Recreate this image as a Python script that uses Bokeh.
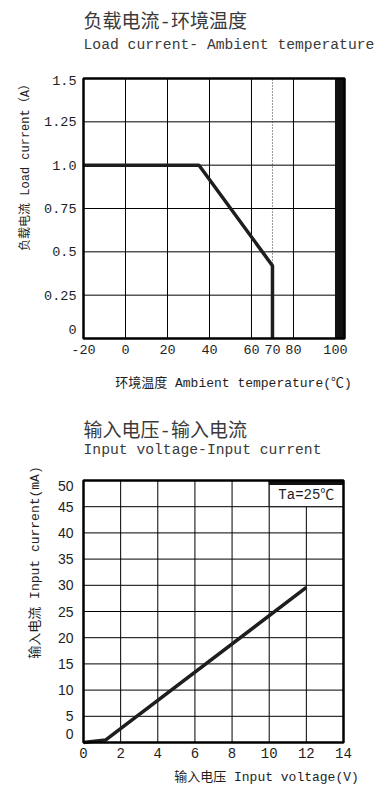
import math
from bokeh.plotting import figure
from bokeh.models import Range1d
from bokeh.layouts import column
from bokeh.core.properties import value
from bokeh.embed import file_html
from bokeh.resources import INLINE

# ---------------- Chart 1: Load current vs Ambient temperature ----------------
temp_c = [-20, 35, 70, 70]
load_a = [1.0, 1.0, 0.42, 0.0]
temp_ticks = [-20, 0, 20, 40, 60, 70, 80, 100]
temp_tick_labels = ["-20", "0", "20", "40", "60", "70", "80", "100"]
temp_grid = [0, 20, 40, 60, 80]
load_ticks = [0, 0.25, 0.5, 0.75, 1.0, 1.25, 1.5]
load_tick_labels = ["0", "0.25", "0.5", "0.75", "1.0", "1.25", "1.5"]
derating_limit = 70
max_temp = 100

title1_cn = "负载电流-环境温度"
title1_en = "Load current- Ambient temperature"
xlabel1 = "环境温度 Ambient temperature(℃)"
ylabel1 = "负载电流 Load current（A）"

# ---------------- Chart 2: Input voltage vs Input current ----------------
volt_v = [0, 1.2, 12]
curr_ma = [0, 0.5, 29.6]
volt_ticks = [0, 2, 4, 6, 8, 10, 12, 14]
volt_tick_labels = ["0", "2", "4", "6", "8", "10", "12", "14"]
curr_ticks = [0, 5, 10, 15, 20, 25, 30, 35, 40, 45, 50]
curr_tick_labels = ["0", "5", "10", "15", "20", "25", "30", "35", "40", "45", "50"]
note_v = [10, 14]
note_ma = [45, 50]

title2_cn = "输入电压-输入电流"
title2_en = "Input voltage-Input current"
xlabel2 = "输入电压 Input voltage(V)"
ylabel2 = "输入电流 Input current(mA)"
note2 = "Ta=25℃"

# ---------------- styles ----------------
MONO = "Liberation Mono, Noto Sans CJK SC"
SANS = "Liberation Sans, Noto Sans CJK SC"
INK = "#1e1e1e"
TITLE_INK = "#3a3a3a"
# pixel nudges of the first/last y tick labels (as in the original artwork)
load_label_nudge_px = [9, 0, 0, 0, 0, 0, -2]
curr_label_nudge_px = [9, 0, 0, 0, 0, 0, 0, 0, 0, 0, -5]


def make_panel(W, H, left, top, bw, bh, x_lo, x_hi, y_lo, y_hi):
    """Figure whose frame fills the canvas; the plotting box sits at
    (left, top, bw, bh) pixels and spans [x_lo, x_hi] x [y_lo, y_hi]."""
    sx = bw / (x_hi - x_lo)
    sy = bh / (y_hi - y_lo)
    xs = x_lo - left / sx
    xe = xs + W / sx
    ye = y_hi + top / sy
    ys = ye - H / sy
    p = figure(width=W, height=H, x_range=Range1d(xs, xe), y_range=Range1d(ys, ye),
               output_backend="svg", toolbar_location=None,
               x_axis_location=None, y_axis_location=None, min_border=0)
    p.outline_line_color = None
    p.background_fill_color = "white"
    p.border_fill_color = "white"
    p.grid.visible = False

    def px(X):
        return xs + X / sx

    def py(Y):
        return ye - Y / sy

    return p, px, py, sx, sy


# ================= Figure 1 =================
X1_LO, X1_HI, Y1_LO, Y1_HI = -20, 104.3, 0, 1.5
p1, px1, py1, sx1, sy1 = make_panel(390, 400, 83, 78, 261, 260, X1_LO, X1_HI, Y1_LO, Y1_HI)

inner_load = load_ticks[1:-1]
p1.segment(x0=temp_grid, y0=[Y1_LO] * len(temp_grid), x1=temp_grid, y1=[Y1_HI] * len(temp_grid),
           line_color="black", line_width=1)
p1.segment(x0=[X1_LO] * len(inner_load), y0=inner_load, x1=[max_temp] * len(inner_load), y1=inner_load,
           line_color="black", line_width=1)
p1.segment(x0=[derating_limit], y0=[Y1_LO], x1=[derating_limit], y1=[Y1_HI],
           line_color="#333", line_width=1, line_dash="1 2")
p1.quad(left=[max_temp], right=[X1_HI], bottom=[Y1_LO], top=[Y1_HI],
        fill_color="#111", line_color="#111")

p1.line(temp_c, load_a, line_color=INK, line_width=3.5)

p1.quad(left=[X1_LO], right=[X1_HI], bottom=[Y1_LO], top=[Y1_HI],
        fill_color=None, line_color="black", line_width=2.5)

# tick labels
p1.text(x=temp_ticks, y=[Y1_LO - 6 / sy1] * len(temp_ticks), text=temp_tick_labels,
        text_font=value(MONO), text_font_size="13.5px", text_color=INK,
        text_align="center", text_baseline="top")
p1.text(x=[X1_LO - 7 / sx1] * len(load_ticks),
        y=[t + n / sy1 for t, n in zip(load_ticks, load_label_nudge_px)],
        text=load_tick_labels, text_font=value(MONO), text_font_size="13.5px",
        text_color=INK, text_align="right", text_baseline="middle")

# titles and axis labels
p1.text(x=[px1(83)], y=[py1(22)], text=[title1_cn], text_font=value(MONO),
        text_font_size="19px", text_color=TITLE_INK, text_align="left", text_baseline="middle")
p1.text(x=[px1(83)], y=[py1(44)], text=[title1_en], text_font=value(MONO),
        text_font_size="14.7px", text_color=TITLE_INK, text_align="left", text_baseline="middle")
p1.text(x=[px1(233)], y=[py1(383)], text=[xlabel1], text_font=value(MONO),
        text_font_size="13px", text_color=INK, text_align="center", text_baseline="middle")
p1.text(x=[px1(25)], y=[py1(164)], text=[ylabel1], text_font=value(MONO), angle=math.pi / 2,
        text_font_size="12px", text_color=INK, text_align="center", text_baseline="middle")

# ================= Figure 2 =================
X2_LO, X2_HI, Y2_LO, Y2_HI = 0, 14, 0, 50
p2, px2, py2, sx2, sy2 = make_panel(390, 393, 83, 80, 260, 262, X2_LO, X2_HI, Y2_LO, Y2_HI)

inner_v = volt_ticks[1:-1]
inner_c = curr_ticks[1:-1]
p2.segment(x0=inner_v, y0=[Y2_LO] * len(inner_v), x1=inner_v, y1=[Y2_HI] * len(inner_v),
           line_color="black", line_width=1)
p2.segment(x0=[X2_LO] * len(inner_c), y0=inner_c, x1=[X2_HI] * len(inner_c), y1=inner_c,
           line_color="black", line_width=1)

p2.line(volt_v, curr_ma, line_color=INK, line_width=3.5)

# condition box
p2.quad(left=[note_v[0]], right=[note_v[1]], bottom=[note_ma[0]], top=[note_ma[1]],
        fill_color="white", line_color="black", line_width=1)
p2.quad(left=[note_v[0]], right=[note_v[1]], bottom=[note_ma[1] - 4 / sy2], top=[note_ma[1]],
        fill_color="#111", line_color="#111")
p2.text(x=[(note_v[0] + note_v[1]) / 2], y=[py2(94.5)],
        text=[note2], text_font=value(MONO), text_font_size="14px", text_color=INK,
        text_align="center", text_baseline="middle")

p2.quad(left=[X2_LO], right=[X2_HI], bottom=[Y2_LO], top=[Y2_HI],
        fill_color=None, line_color="black", line_width=2.5)

p2.text(x=volt_ticks, y=[Y2_LO - 5 / sy2] * len(volt_ticks), text=volt_tick_labels,
        text_font=value(MONO), text_font_size="14px", text_color=INK,
        text_align="center", text_baseline="top")
p2.text(x=[X2_LO - 10 / sx2] * len(curr_ticks),
        y=[t + n / sy2 for t, n in zip(curr_ticks, curr_label_nudge_px)],
        text=curr_tick_labels, text_font=value(SANS), text_font_size="14px",
        text_color=INK, text_align="right", text_baseline="middle")

p2.text(x=[px2(83)], y=[py2(31.7)], text=[title2_cn], text_font=value(MONO),
        text_font_size="19px", text_color=TITLE_INK, text_align="left", text_baseline="middle")
p2.text(x=[px2(83)], y=[py2(49.3)], text=[title2_en], text_font=value(MONO),
        text_font_size="14.7px", text_color=TITLE_INK, text_align="left", text_baseline="middle")
p2.text(x=[px2(266)], y=[py2(376.7)], text=[xlabel2], text_font=value(MONO),
        text_font_size="13px", text_color=INK, text_align="center", text_baseline="middle")
p2.text(x=[px2(35)], y=[py2(162)], text=[ylabel2], text_font=value(MONO), angle=math.pi / 2,
        text_font_size="13px", text_color=INK, text_align="center", text_baseline="middle")

layout = column(p1, p2)
open("out.html", "w").write(file_html(layout, INLINE))
